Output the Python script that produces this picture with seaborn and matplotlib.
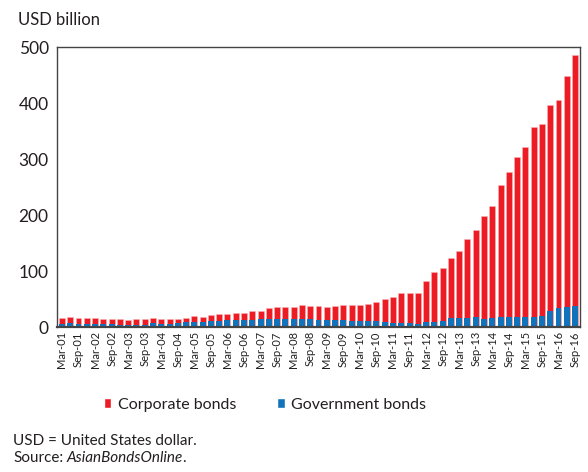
import numpy as np
import pandas as pd
import matplotlib
matplotlib.use("Agg")
import matplotlib.pyplot as plt
import seaborn as sns
from matplotlib.patches import Patch

# Quarterly periods Mar-01 .. Sep-16
months = ["Mar", "Jun", "Sep", "Dec"]
quarters = [f"{m}-{y:02d}" for y in range(1, 17) for m in months][:63]

total = [16, 18, 16, 15.5, 16, 15, 14.5, 14, 13, 14, 14, 15.5, 14.5, 13.5, 14, 16,
         19, 18.5, 21, 23.5, 23.8, 24.4, 24.4, 28, 28.6, 34, 35.7, 36.3, 36.3, 39.3,
         38, 37.5, 35.7, 37.5, 39.3, 38.7, 40, 41.7, 44.6, 50, 53.5, 60, 61, 61,
         82.7, 97.6, 104.7, 123, 136, 158, 172.6, 198, 216, 253.6, 276.8, 304, 321,
         357, 363, 396, 406, 447.6, 485]
government = [5, 7, 5, 5, 5.5, 5, 4.5, 4, 4, 4, 4, 6.5, 4.5, 4.5, 6.5, 8.5,
              9, 9, 11, 11.5, 12.5, 12, 11.7, 13.3, 13.7, 14.3, 14.9, 14.5, 14.5, 14.5,
              14, 13, 13, 13, 12.5, 11.6, 11, 11, 11, 9.2, 8, 6.5, 6.5, 6,
              9.7, 9.7, 11, 15.5, 16.7, 16.7, 17, 15, 16, 17, 18.5, 17, 17.6,
              17.6, 19.4, 28.5, 33.3, 35.7, 37]
corporate = [t - g for t, g in zip(total, government)]

df = pd.DataFrame({"quarter": quarters, "corporate": corporate,
                   "government": government})
df["total"] = df["corporate"] + df["government"]

RED = "#ED1C24"
BLUE = "#1173BA"
TXT = "#231F20"

sns.set_theme(style="white")
plt.rcParams["font.family"] = ["Lato", "DejaVu Sans"]
plt.rcParams["text.color"] = TXT

fig = plt.figure(figsize=(5.88, 4.72), dpi=100)
ax = fig.add_axes([57 / 588, 1 - 327 / 472, 523 / 588, 280 / 472])

sns.barplot(data=df, x="quarter", y="total", color=RED, saturation=1,
            width=0.72, ax=ax, edgecolor="#f8b4b6", linewidth=0.4)
sns.barplot(data=df, x="quarter", y="government", color=BLUE, saturation=1,
            width=0.72, ax=ax, linewidth=0)

ax.set_xlim(-0.6, 62.6)
ax.set_ylim(0, 500)
ax.set_yticks([0, 100, 200, 300, 400, 500])
ax.set_yticklabels(["0", "100", "200", "300", "400", "500"], fontsize=12.5, color=TXT)
ax.set_xticks(list(range(0, 63, 2)))
ax.set_xticklabels(quarters[::2], rotation=90, fontsize=8, color=TXT)
ax.tick_params(axis="y", direction="in", length=3, width=0.8, color="#444444", pad=6)
ax.tick_params(axis="x", length=0, pad=3)
ax.set_xlabel("")
ax.set_ylabel("")
for s in ["left", "right", "top"]:
    ax.spines[s].set_color("#444444")
    ax.spines[s].set_linewidth(1.0)
ax.spines["bottom"].set_color("#444444")
ax.spines["bottom"].set_linewidth(1.6)

fig.text(18 / 588, 1 - 20 / 472, "USD billion", fontsize=12, va="center", ha="left")

handles = [Patch(facecolor=RED, label="Corporate bonds"),
           Patch(facecolor=BLUE, label="Government bonds")]
fig.legend(handles=handles, loc="center", bbox_to_anchor=(265 / 588, 1 - 405 / 472),
           ncol=2, frameon=False, fontsize=11.5, handlelength=0.45, handleheight=0.6,
           handletextpad=0.4, columnspacing=2.6)

fig.text(13 / 588, 1 - 441 / 472, "USD = United States dollar.", fontsize=11,
         va="center", ha="left")
t1 = fig.text(13 / 588, 1 - 462 / 472, "Source:", fontsize=11, va="baseline", ha="left")
t2 = fig.text(0, 0, "AsianBondsOnline", fontsize=11, style="italic",
              va="baseline", ha="left")
fig.canvas.draw()
r = fig.canvas.get_renderer()
bb1 = t1.get_window_extent(r)
x2 = (bb1.x1 + 3) / fig.bbox.width
t2.set_position((x2, t1.get_position()[1]))
fig.canvas.draw()
bb2 = t2.get_window_extent(r)
fig.text(bb2.x1 / fig.bbox.width, t1.get_position()[1], ".", fontsize=11,
         va="baseline", ha="left")

fig.savefig("out.png", dpi=100)
